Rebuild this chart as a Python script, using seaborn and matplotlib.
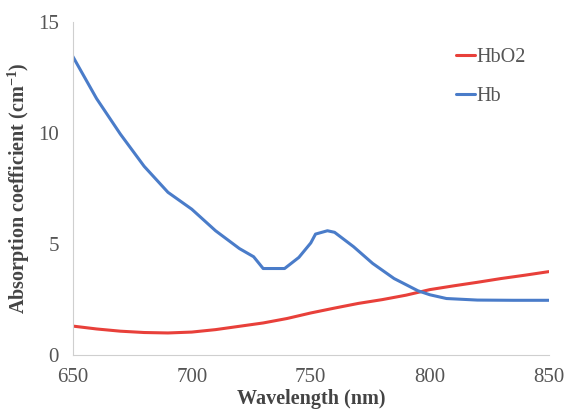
import matplotlib
matplotlib.use("Agg")
import matplotlib.pyplot as plt
import seaborn as sns
import pandas as pd

# Absorption spectra of oxy- and deoxy-haemoglobin
wl_hbo2 = [650, 660, 670, 680, 690, 700, 710, 720, 730, 740, 750, 760, 770,
           780, 790, 800, 810, 820, 830, 840, 850]
hbo2 = [1.31, 1.18, 1.08, 1.02, 1.00, 1.04, 1.15, 1.30, 1.45, 1.65, 1.90, 2.12, 2.33,
        2.50, 2.70, 2.95, 3.12, 3.28, 3.45, 3.60, 3.76]

wl_hb = [650, 660, 670, 680, 690, 700, 710, 720, 726, 730, 739, 745, 750, 752,
         757, 760, 768, 776, 785, 795, 800, 807, 820, 835, 850]
hb = [13.45, 11.55, 9.95, 8.5, 7.33, 6.57, 5.6, 4.8, 4.43, 3.90, 3.90, 4.4, 5.05, 5.45,
      5.6, 5.53, 4.88, 4.13, 3.45, 2.9, 2.72, 2.55, 2.48, 2.47, 2.47]

df = pd.DataFrame({"Wavelength": wl_hbo2 + wl_hb,
                   "Absorption": hbo2 + hb,
                   "Species": ["HbO2"] * len(wl_hbo2) + ["Hb"] * len(wl_hb)})

sns.set_style("white")
plt.rcParams["font.family"] = ["Liberation Serif", "DejaVu Serif"]

fig = plt.figure(figsize=(5.64, 4.13), dpi=100)
ax = fig.add_axes([0.129, 0.140, 0.844, 0.807])

palette = {"HbO2": "#e8403a", "Hb": "#4a7cc9"}
sns.lineplot(data=df, x="Wavelength", y="Absorption", hue="Species",
             palette=palette, linewidth=2.2, ax=ax)

ax.set_xlim(650, 850)
ax.set_ylim(0, 15)
ax.set_xticks([650, 700, 750, 800, 850])
ax.set_yticks([0, 5, 10, 15])
ax.tick_params(axis="both", labelsize=15, colors="#c8c8c8", labelcolor="#555555",
               length=4, width=0.8, direction="out")
ax.tick_params(axis="x", pad=5)
ax.tick_params(axis="y", pad=6)

for side in ["top", "right"]:
    ax.spines[side].set_visible(False)
for side in ["left", "bottom"]:
    ax.spines[side].set_color("#cfcfcf")
    ax.spines[side].set_linewidth(0.8)

ax.set_xlabel("Wavelength (nm)", fontsize=14.5, fontweight="bold", color="#444444", labelpad=2)
ax.set_ylabel("Absorption coefficient (cm$^{\\mathregular{-1}}$)", fontsize=14.5,
              fontweight="bold", color="#444444", labelpad=4)

leg = ax.legend(loc="upper left", bbox_to_anchor=(0.768, 0.975), frameon=False,
                fontsize=14.5, handlelength=0.9, handletextpad=0.1,
                labelspacing=0.95, title=None)
for t in leg.get_texts():
    t.set_color("#555555")

fig.savefig("out.png", dpi=100)
